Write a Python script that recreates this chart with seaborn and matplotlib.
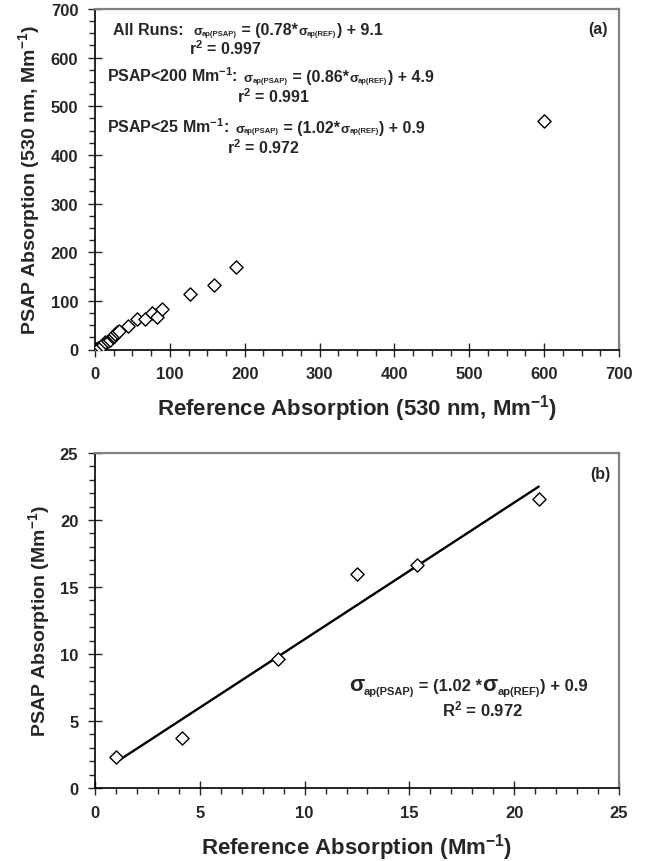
import matplotlib
matplotlib.use("Agg")
import matplotlib.pyplot as plt
import matplotlib.transforms as mtransforms
from matplotlib.ticker import MultipleLocator
import numpy as np
import pandas as pd
import seaborn as sns

# ---- data: panel (a) all runs ----
ref_all = [0.7, 3.8, 7.3, 10.9, 14.0, 17.0, 20.7, 24.3, 26.0, 27.3, 29.6, 31.7,
           43.8, 56.2, 67.3, 76.2, 82.9, 89.0, 126.4, 158.4, 188.3, 600.0]
psap_all = [0.5, 2.5, 5.8, 9.3, 14.8, 16.9, 20.1, 25.0, 27.5, 31.9, 35.3, 37.3,
            48.3, 62.7, 62.7, 74.4, 67.5, 83.0, 113.5, 132.6, 169.0, 470.0]

# ---- data: panel (b) PSAP < 25 Mm-1 ----
ref_low = [1.02, 4.17, 8.72, 12.52, 15.38, 21.17]
psap_low = [2.32, 3.74, 9.65, 15.96, 16.63, 21.57]
fit_slope = 1.02
fit_intercept = 0.9

sns.set_style("white")
plt.rcParams["font.family"] = ["Liberation Sans", "DejaVu Sans"]
plt.rcParams["font.weight"] = "bold"
plt.rcParams["mathtext.fontset"] = "custom"
plt.rcParams["mathtext.rm"] = "Liberation Sans:bold"
plt.rcParams["mathtext.it"] = "Liberation Sans:bold"
plt.rcParams["mathtext.bf"] = "Liberation Sans:bold"
plt.rcParams["mathtext.default"] = "rm"

DPI = 100
fig = plt.figure(figsize=(6.6, 8.62), dpi=DPI)
ax1 = fig.add_axes([95/660, 1-350.5/862, 524/660, 340.5/862])
ax2 = fig.add_axes([95/660, 1-789/862, 524/660, 335/862])

df_a = pd.DataFrame({"ref": ref_all, "psap": psap_all})
df_b = pd.DataFrame({"ref": ref_low, "psap": psap_low})

sns.scatterplot(data=df_a, x="ref", y="psap", ax=ax1, marker="D", s=45,
                facecolor="white", edgecolor="black", linewidth=1.0, zorder=3)

xfit = np.array([min(ref_low), max(ref_low)])
sns.lineplot(x=xfit, y=fit_slope * xfit + fit_intercept, ax=ax2, color="black",
             linewidth=1.7, zorder=2)
sns.scatterplot(data=df_b, x="ref", y="psap", ax=ax2, marker="D", s=45,
                facecolor="white", edgecolor="black", linewidth=1.0, zorder=3)

def style(ax, lim, major, minor):
    ax.set_xlim(0, lim)
    ax.set_ylim(0, lim)
    ax.xaxis.set_major_locator(MultipleLocator(major))
    ax.yaxis.set_major_locator(MultipleLocator(major))
    ax.xaxis.set_minor_locator(MultipleLocator(minor))
    ax.yaxis.set_minor_locator(MultipleLocator(minor))
    ax.tick_params(which="major", direction="inout", length=10, width=1.0,
                   labelsize=12, pad=7, bottom=True, left=True, top=False, right=False)
    ax.tick_params(which="minor", direction="out", length=4, width=1.0,
                   bottom=True, left=True, top=False, right=False)
    for lab in ax.get_xticklabels() + ax.get_yticklabels():
        lab.set_fontweight("bold")
    for s in ["left", "bottom"]:
        ax.spines[s].set_color("black")
        ax.spines[s].set_linewidth(1.2)
    for s in ["top", "right"]:
        ax.spines[s].set_color("#808080")
        ax.spines[s].set_linewidth(1.6)
    ax.grid(False)

style(ax1, 700, 100, 25)
style(ax2, 25, 5, 1)

ax1.set_xlabel("Reference Absorption (530 nm, Mm$^{-1}$)", fontsize=16, fontweight="bold", labelpad=8)
ax1.set_ylabel("PSAP Absorption (530 nm, Mm$^{-1}$)", fontsize=14, fontweight="bold", labelpad=6)
ax2.set_xlabel("Reference Absorption (Mm$^{-1}$)", fontsize=16, fontweight="bold", labelpad=8)
ax2.set_ylabel("PSAP Absorption (Mm$^{-1}$)", fontsize=14, fontweight="bold", labelpad=6)

renderer = fig.canvas.get_renderer()

def seq_text(ax, x, y, parts, ha="left"):
    """parts: list of (string, fontsize, dy_points). Placed one after another."""
    widths = []
    for s, size, dy in parts:
        t = ax.text(0, 0, s, fontsize=size, fontweight="bold")
        widths.append(t.get_window_extent(renderer).width)
        t.remove()
    total = sum(widths)
    off = -total / 2 if ha == "center" else 0.0
    for (s, size, dy), w in zip(parts, widths):
        tr = mtransforms.offset_copy(ax.transData, fig=fig, x=off, y=dy * DPI / 72.0,
                                     units="dots")
        ax.text(x, y, s, fontsize=size, fontweight="bold", transform=tr,
                va="baseline", ha="left")
        off += w

fs = 11.5   # main annotation size
sg = 9.5    # small sigma
sb = 5.5    # tiny subscript

def eq_parts(prefix, slope, icpt):
    return [(prefix, fs, 0), ("σ", sg, 0), ("ap(PSAP)", sb, -0.5),
            (" = (" + slope + "*", fs, 0), ("σ", sg, 0), ("ap(REF)", sb, -0.5),
            (") + " + icpt, fs, 0)]

seq_text(ax1, 24.7, 649, eq_parts("All Runs:  ", "0.78", "9.1"))
ax1.text(125, 608.5, "r$^2$ = 0.997", fontsize=fs, fontweight="bold", va="baseline", ha="left")
seq_text(ax1, 16.3, 551, eq_parts("PSAP<200 Mm$^{-1}$:  ", "0.86", "4.9"))
ax1.text(190, 509.5, "r$^2$ = 0.991", fontsize=fs, fontweight="bold", va="baseline", ha="left")
seq_text(ax1, 16.3, 448, eq_parts("PSAP<25 Mm$^{-1}$:  ", "1.02", "0.9"))
ax1.text(176.7, 404, "r$^2$ = 0.972", fontsize=fs, fontweight="bold", va="baseline", ha="left")
ax1.text(685, 659, "(a)", fontsize=11.5, fontweight="bold", va="center", ha="right")

seq_text(ax2, 17.8, 7.3, [("σ", 16, 0), ("ap(PSAP)", 8, -2.5), (" = (1.02 *", 12, 0),
                          ("σ", 16, 0), ("ap(REF)", 8, -2.5), (") + 0.9", 12, 0)],
         ha="center")
ax2.text(18.5, 5.45, "R$^2$ = 0.972", fontsize=12, fontweight="bold", va="baseline", ha="center")
ax2.text(24.6, 23.5, "(b)", fontsize=11.5, fontweight="bold", va="center", ha="right")

fig.savefig("out.png", dpi=DPI, facecolor="white")
